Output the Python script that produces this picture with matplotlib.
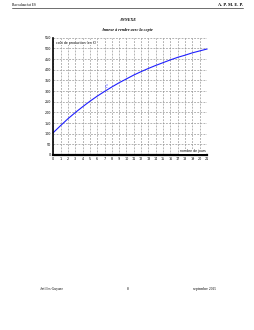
import matplotlib
matplotlib.use("Agg")
import matplotlib.pyplot as plt
import numpy as np

# Data
days = list(range(0, 22))
cost = [105, 138, 170, 199, 226, 252, 276, 298, 319, 339, 357, 375,
        391, 406, 420, 433, 446, 458, 468, 479, 488, 497]
x_ticks = list(range(0, 22))
y_ticks = list(range(0, 551, 50))

W, H = 255, 330
fig = plt.figure(figsize=(W / 100, H / 100), dpi=100)
fig.patch.set_facecolor("white")

def fx(px):
    return px / W

def fy(py):
    return 1 - py / H

serif = "Liberation Serif"

# Header
fig.text(fx(12), fy(4.5), "Baccalauréat ES", fontsize=2.6, family=serif, va="center", ha="left")
fig.text(fx(243), fy(4.5), "A. P. M. E. P.", fontsize=3.2, family=serif, va="center", ha="right", weight="bold")
fig.add_artist(plt.Line2D([fx(12), fx(243)], [fy(7.5), fy(7.5)], color="black", lw=0.4))

fig.text(0.5, fy(20), "ANNEXE", fontsize=3.0, family=serif, va="center", ha="center", weight="bold", style="italic")
fig.text(0.5, fy(30), "Annexe à rendre avec la copie", fontsize=3.0, family=serif, va="center", ha="center",
         weight="bold", style="italic")

# Footer
fig.text(fx(52), fy(289), "Antilles-Guyane", fontsize=2.6, family=serif, va="center", ha="center")
fig.text(fx(127.5), fy(289), "8", fontsize=2.6, family=serif, va="center", ha="center")
fig.text(fx(205), fy(289), "septembre 2015", fontsize=2.6, family=serif, va="center", ha="center")

# Axes
left, right, bottom, top = 53.3, 207.0, 155.0, 37.7
ax = fig.add_axes([fx(left), fy(bottom), fx(right) - fx(left), fy(top) - fy(bottom)])
ax.set_xlim(0, 21)
ax.set_ylim(0, 550)
ax.set_xticks(x_ticks)
ax.set_yticks(y_ticks)
ax.set_xticklabels([str(v) for v in x_ticks], fontsize=2.4)
ax.set_yticklabels([str(v) for v in y_ticks], fontsize=2.4)
ax.tick_params(length=0, pad=1.5)
ax.grid(True, color="#8a8a8a", linestyle=(0, (3, 2)), linewidth=0.45)
for s in ["top", "right"]:
    ax.spines[s].set_visible(False)
ax.spines["left"].set_linewidth(1.2)
ax.spines["bottom"].set_linewidth(1.6)
ax.set_axisbelow(True)

ax.plot(days, cost, color="#1f1fff", linewidth=0.8, clip_on=False)
ax.text(7.2, 322, r"$\mathcal{C}$", color="#5555ff", fontsize=3.5, ha="center", va="center")

ax.text(0.4, 525, "coût de production (en €)", fontsize=2.3, ha="left", va="center",
        bbox=dict(facecolor="white", edgecolor="none", pad=0.3))
ax.text(20.8, 18, "nombre de jours", fontsize=2.3, ha="right", va="center",
        bbox=dict(facecolor="white", edgecolor="none", pad=0.3))

fig.savefig("out.png", dpi=100, facecolor="white")
